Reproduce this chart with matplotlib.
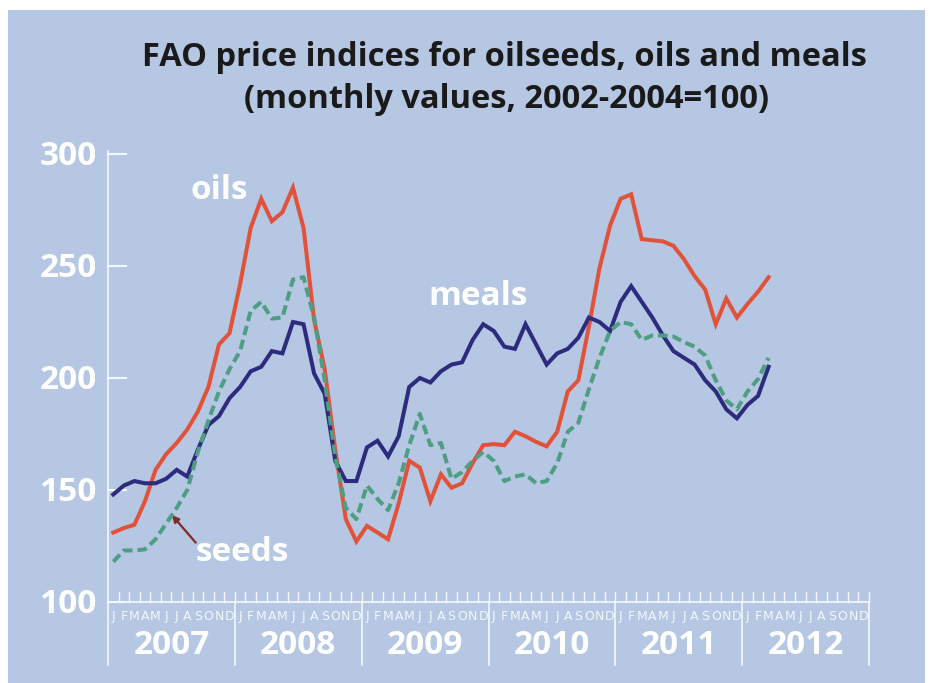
import numpy as np
import matplotlib.pyplot as plt
from matplotlib.patches import Rectangle
from matplotlib import font_manager

# monthly index values, Jan 2007 .. Mar 2012 (2002-2004 = 100)
years = ['2007', '2008', '2009', '2010', '2011', '2012']
month_letters = ['J', 'F', 'M', 'A', 'M', 'J', 'J', 'A', 'S', 'O', 'N', 'D']
y_ticks = [100, 150, 200, 250, 300]

oils = [131, 133, 134.5, 145, 159, 166, 171, 177, 185, 196, 215, 220,
        242, 267, 280, 270, 274, 285, 267, 226, 204, 168, 137, 127,
        134, 131, 128, 144, 163, 160, 145, 157, 151, 153, 162, 170,
        170.5, 170, 176, 174, 171.5, 169.5, 176, 194, 199, 223, 249, 268,
        280, 282, 262, 261.5, 261, 259, 253, 245.5, 239.5, 224, 235.5, 227,
        233, 238.5, 245]

meals = [148, 152, 154, 153, 153, 155, 159, 156, 168, 179, 183, 191,
         196, 203, 205, 212, 211, 225, 224, 202, 193, 163, 154, 154,
         169, 172, 165, 174, 196, 200, 198, 203, 206, 207, 217, 224,
         221, 214, 213, 224, 215, 206, 211, 213, 218, 227, 225, 221,
         234, 241, 234, 227, 219, 212, 209, 206, 199, 194, 186, 182,
         188, 192, 205]

seeds = [118, 123, 123, 123.5, 128, 135, 142, 150, 167, 181, 194, 204,
         212, 230, 234, 226.5, 227, 244, 245, 227, 199, 165, 142, 137,
         152, 146, 141, 153, 170, 184, 170, 171, 155, 158, 163, 167,
         163, 154, 156, 157, 153, 154, 162, 176, 180, 195, 209, 221,
         225, 224, 217, 219, 219, 218.5, 216, 214, 210, 199, 190, 186,
         194, 199.5, 209]

W, H = 937, 683
bg = '#b5c7e3'
fg = '#f4f7fc'
c_oils = '#e0533a'
c_meals = '#2d2b7d'
c_seeds = '#4f9e84'
font = 'Open Sans'

# narrow font for the month letters if there is one
names = {f.name for f in font_manager.fontManager.ttflist}
if 'Liberation Sans Narrow' in names:
    mfont, msize = 'Liberation Sans Narrow', 11
else:
    mfont, msize = 'DejaVu Sans', 9

fig = plt.figure(figsize=(W / 100, H / 100), dpi=100)
fig.patch.set_facecolor('white')
fig.patches.append(Rectangle((8 / W, 0), 917 / W, 673 / H,
                             transform=fig.transFigure, facecolor=bg,
                             edgecolor='none', zorder=-5))

# axes: x in months from Jan 2007, y index 100..300
ax = fig.add_axes([108 / W, 1 - 602 / H, 761 / W, 448 / H])
ax.set_facecolor('none')
for s in ax.spines.values():
    s.set_visible(False)
ax.set_xlim(0, 72)
ax.set_ylim(100, 300)
ax.set_xticks([])
ax.set_yticks([])

x = np.arange(len(oils)) + 0.5
ax.plot(x, oils, color=c_oils, lw=2.9, solid_joinstyle='miter', zorder=3)
ax.plot(x, meals, color=c_meals, lw=2.9, solid_joinstyle='miter', zorder=4)
ax.plot(x, seeds, color=c_seeds, lw=2.9, ls=(0, (2.4, 1.2)), zorder=5)

# axis lines
ax.plot([0, 0], [72, 301.5], color=fg, lw=1.2, clip_on=False, zorder=2)
ax.plot([0, 72], [100, 100], color=fg, lw=1.2, clip_on=False, zorder=2)
for m in range(1, 73):
    ax.plot([m, m], [100, 104.5], color=fg, lw=1.0, clip_on=False, zorder=2)
for k in range(1, len(years) + 1):
    ax.plot([12 * k, 12 * k], [72, 100], color=fg, lw=1.2, clip_on=False, zorder=2)

# y ticks and labels
for v in y_ticks:
    ax.plot([0, 1.7], [v, v], color=fg, lw=1.5, clip_on=False, zorder=2)
    ax.text(-1.05, v - 1.0, str(v), ha='right', va='center', color='white',
            fontsize=24, fontweight='bold', family=font, clip_on=False)

# month letters and years
for k, yr in enumerate(years):
    for i, ml in enumerate(month_letters):
        ax.text(12 * k + i + 0.5, 93.4, ml, ha='center', va='center',
                color=fg, fontsize=msize, family=mfont, clip_on=False)
    ax.text(12 * k + 6, 80.6, yr, ha='center', va='center', color='white',
            fontsize=24, fontweight='bold', family=font, clip_on=False)

# series labels
ax.text(10.5, 283.5, 'oils', ha='center', va='center', color='white',
        fontsize=24, fontweight='bold', family=font)
ax.text(35.0, 236.5, 'meals', ha='center', va='center', color='white',
        fontsize=24, fontweight='bold', family=font)
ax.text(12.7, 122, 'seeds', ha='center', va='center', color='white',
        fontsize=24, fontweight='bold', family=font)
ax.annotate('', xy=(6.05, 138.8), xytext=(8.3, 126.5),
            arrowprops=dict(arrowstyle='-|>', color='#7b2d26', lw=1.6,
                            mutation_scale=10, shrinkA=0, shrinkB=0))

fig.text(504 / W, 1 - 58 / H, 'FAO price indices for oilseeds, oils and meals',
         ha='center', va='center', fontsize=23.5, fontweight='bold',
         color='#1a1a1a', family=font)
fig.text(506 / W, 1 - 100 / H, '(monthly values, 2002-2004=100)',
         ha='center', va='center', fontsize=23.5, fontweight='bold',
         color='#1a1a1a', family=font)

fig.savefig('out.png', dpi=100)
